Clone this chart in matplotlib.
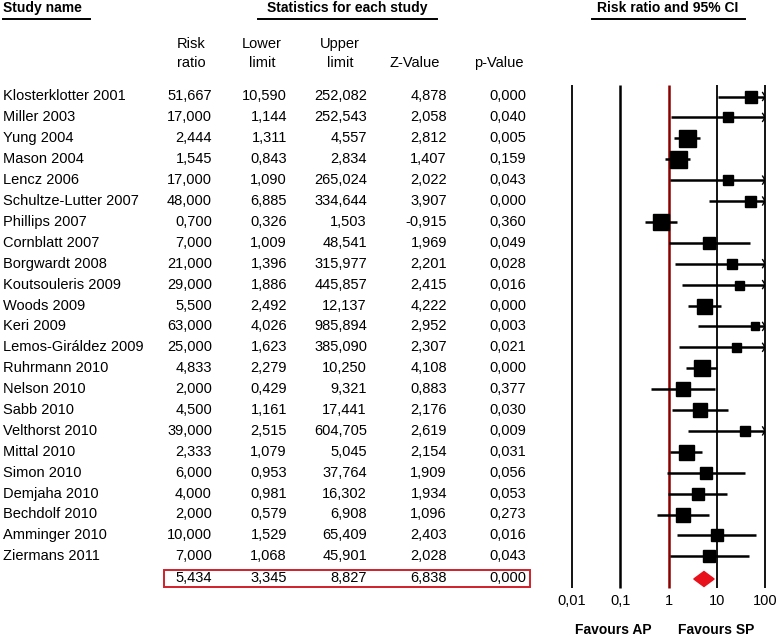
import matplotlib
matplotlib.use("Agg")
import matplotlib.pyplot as plt
import numpy as np
from matplotlib.patches import Rectangle, Polygon

plt.rcParams['font.family'] = ['Liberation Sans', 'DejaVu Sans']

studies = ["Klosterklotter 2001", "Miller 2003", "Yung 2004", "Mason 2004", "Lencz 2006",
           "Schultze-Lutter 2007", "Phillips 2007", "Cornblatt 2007", "Borgwardt 2008",
           "Koutsouleris 2009", "Woods 2009", "Keri 2009", "Lemos-Giráldez 2009",
           "Ruhrmann 2010", "Nelson 2010", "Sabb 2010", "Velthorst 2010", "Mittal 2010",
           "Simon 2010", "Demjaha 2010", "Bechdolf 2010", "Amminger 2010", "Ziermans 2011"]
rr = [51.667, 17.000, 2.444, 1.545, 17.000, 48.000, 0.700, 7.000, 21.000, 29.000, 5.500,
      63.000, 25.000, 4.833, 2.000, 4.500, 39.000, 2.333, 6.000, 4.000, 2.000, 10.000, 7.000]
lower = [10.590, 1.144, 1.311, 0.843, 1.090, 6.885, 0.326, 1.009, 1.396, 1.886, 2.492,
         4.026, 1.623, 2.279, 0.429, 1.161, 2.515, 1.079, 0.953, 0.981, 0.579, 1.529, 1.068]
upper = [252.082, 252.543, 4.557, 2.834, 265.024, 334.644, 1.503, 48.541, 315.977, 445.857,
         12.137, 985.894, 385.090, 10.250, 9.321, 17.441, 604.705, 5.045, 37.764, 16.302,
         6.908, 65.409, 45.901]
zval = [4.878, 2.058, 2.812, 1.407, 2.022, 3.907, -0.915, 1.969, 2.201, 2.415, 4.222, 2.952,
        2.307, 4.108, 0.883, 2.176, 2.619, 2.154, 1.909, 1.934, 1.096, 2.403, 2.028]
pval = [0.000, 0.040, 0.005, 0.159, 0.043, 0.000, 0.360, 0.049, 0.028, 0.016, 0.000, 0.003,
        0.021, 0.000, 0.377, 0.030, 0.009, 0.031, 0.056, 0.053, 0.273, 0.016, 0.043]
summary = [5.434, 3.345, 8.827, 6.838, 0.000]
tick_vals = [0.01, 0.1, 1, 10, 100]
tick_labels = ["0,01", "0,1", "1", "10", "100"]

# marker sizes (px) – style
msize = [12.3, 10, 17, 17, 10, 11, 15.5, 11.7, 9.7, 9, 15, 8.3, 9, 16, 13.3, 14, 9.7, 15,
         11.7, 12.3, 14.3, 11.3, 11.7]

W, H = 779, 637
fig = plt.figure(figsize=(W / 100, H / 100), dpi=100)
ax = fig.add_axes([0, 0, 1, 1])
ax.set_xlim(0, W)
ax.set_ylim(H, 0)
ax.axis('off')

def fmt(v, d=3):
    return f"{v:.{d}f}".replace('.', ',')

FS = 10.5
BFS = 10.0
row0, step = 96.5, 20.9
row_y = [row0 + i * step for i in range(len(studies))]
sum_y = row_y[-1] + 21.7

# headers
ax.text(3, 8, "Study name", fontsize=BFS, fontweight='bold', va='center', ha='left')
ax.plot([3, 90], [18.5, 18.5], color='black', lw=1.4)
ax.text(347, 8, "Statistics for each study", fontsize=BFS, fontweight='bold', va='center', ha='center')
ax.plot([258, 437], [18.5, 18.5], color='black', lw=1.4)
ax.text(668, 8, "Risk ratio and 95% CI", fontsize=BFS, fontweight='bold', va='center', ha='center')
ax.plot([592, 745], [18.5, 18.5], color='black', lw=1.4)

col_right = [212, 287, 367, 447, 526]
ax.text(191, 44, "Risk", fontsize=FS, ha='center', va='center')
ax.text(191, 63, "ratio", fontsize=FS, ha='center', va='center')
ax.text(262, 44, "Lower", fontsize=FS, ha='center', va='center')
ax.text(262, 63, "limit", fontsize=FS, ha='center', va='center')
ax.text(340, 44, "Upper", fontsize=FS, ha='center', va='center')
ax.text(340, 63, "limit", fontsize=FS, ha='center', va='center')
ax.text(415, 63, "Z-Value", fontsize=FS, ha='center', va='center')
ax.text(499, 63, "p-Value", fontsize=FS, ha='center', va='center')

for i, name in enumerate(studies):
    y = row_y[i]
    ax.text(3, y, name, fontsize=FS, ha='left', va='center')
    vals = [rr[i], lower[i], upper[i], zval[i], pval[i]]
    for xr, v in zip(col_right, vals):
        ax.text(xr, y, fmt(v), fontsize=FS, ha='right', va='center')

for xr, v in zip(col_right, summary):
    ax.text(xr, sum_y, fmt(v), fontsize=FS, ha='right', va='center')
ax.add_patch(Rectangle((164, sum_y - 8), 366, 17, fill=False, edgecolor='#d0202a', lw=1.4))

# forest axes
x0, x1 = 572, 765
fax = fig.add_axes([x0 / W, 0, (x1 - x0) / W, 1])
fax.set_xscale('log')
fax.set_xlim(0.01, 100)
fax.set_ylim(H, 0)
fax.axis('off')
for t, lab in zip(tick_vals, tick_labels):
    col = '#8b0000' if t == 1 else 'black'
    lw = 1.8 if t in (0.1, 1) else 1.3
    fax.plot([t, t], [85, 588], color=col, lw=lw, solid_capstyle='butt', clip_on=False, zorder=1)
    fax.text(t, 601, lab, fontsize=FS, ha='center', va='center')

ax.text(613, 630, "Favours AP", fontsize=BFS, fontweight='bold', ha='center', va='center')
ax.text(716, 630, "Favours SP", fontsize=BFS, fontweight='bold', ha='center', va='center')

for i in range(len(studies)):
    y = row_y[i]
    lo = max(lower[i], 0.01)
    hi = min(upper[i], 100)
    fax.plot([lo, hi], [y, y], color='black', lw=1.8, solid_capstyle='butt', zorder=2)
    if upper[i] > 100:
        fax.plot([100 / 1.12, 100, 100 / 1.12], [y - 4, y, y + 4], color='black', lw=1.0, zorder=3)
    s = msize[i]
    fax.plot([rr[i]], [y], marker='s', markersize=s * 0.72, color='black', zorder=4, clip_on=False)

# summary diamond
ly = sum_y + 1
diamond = Polygon([[summary[1], ly], [summary[0], ly - 7.5], [summary[2], ly], [summary[0], ly + 7.5]],
                  closed=True, facecolor='#e8101a', edgecolor='#e8101a', zorder=4)
fax.add_patch(diamond)

fig.savefig("out.png", dpi=100)
